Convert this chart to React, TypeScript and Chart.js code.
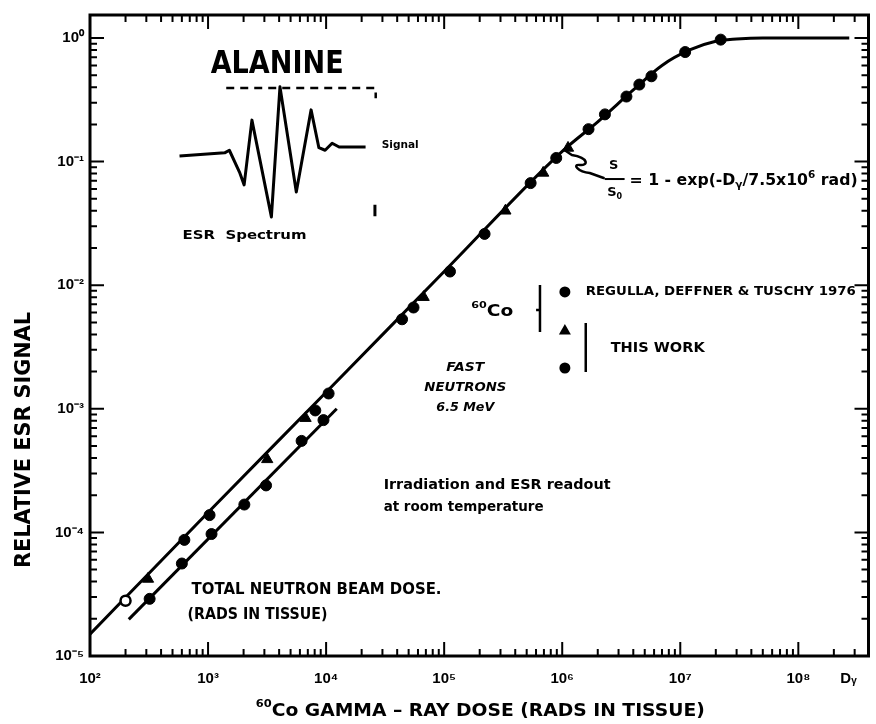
import React, { useEffect, useRef } from 'react';
import { Chart, registerables } from 'chart.js';

Chart.register(...registerables);

// ---------------- data ----------------
// fitted curve S/S0 = 1 - exp(-D/7.5e6 rad)
const FIT_DOSE = [1e2, 1e3, 1e4, 1e5, 1e6, 2e6, 4e6, 7e6, 1.2e7, 2e7, 3e7, 5e7, 2.7e8];
const FIT_SIGNAL = [1.5e-5, 1.45e-4, 1.36e-3, 1.29e-2, 0.121, 0.21, 0.38, 0.6, 0.8, 0.94, 0.98, 1.0, 1.0];

// 60Co — Regulla, Deffner & Tuschy 1976 (filled circles)
const REGULLA_DOSE = [630, 1030, 8100, 1.05e4, 4.4e4, 5.5e4, 1.12e5, 2.2e5, 5.4e5, 8.9e5, 1.67e6, 2.3e6, 3.5e6, 4.5e6, 5.7e6, 1.1e7, 2.2e7];
const REGULLA_SIGNAL = [8.7e-5, 1.38e-4, 9.7e-4, 1.33e-3, 5.3e-3, 6.6e-3, 1.29e-2, 2.6e-2, 6.7e-2, 0.107, 0.183, 0.241, 0.336, 0.42, 0.49, 0.77, 0.97];

// 60Co — this work (triangles)
const CO_THIS_WORK_DOSE = [310, 3170, 6700, 6.7e4, 3.3e5, 6.9e5, 1.12e6];
const CO_THIS_WORK_SIGNAL = [4.2e-5, 3.9e-4, 8.4e-4, 8.0e-3, 4.0e-2, 8.1e-2, 0.129];

// open circle on the 60Co line
const OPEN_DOSE = [200];
const OPEN_SIGNAL = [2.8e-5];

// fast neutrons 6.5 MeV — this work (circles, total neutron beam dose)
const NEUTRON_DOSE = [320, 600, 1070, 2030, 3100, 6200, 9500];
const NEUTRON_SIGNAL = [2.9e-5, 5.6e-5, 9.7e-5, 1.68e-4, 2.4e-4, 5.5e-4, 8.1e-4];
const NEUTRON_LINE_DOSE = [213, 1.23e4];
const NEUTRON_LINE_SIGNAL = [1.98e-5, 1.0e-3];

// axes
const X_MIN = 1e2;
const X_MAX = 3.93e8;
const Y_MIN = 1e-5;
const Y_MAX = 1.535;
const X_TICKS = [1e2, 1e3, 1e4, 1e5, 1e6, 1e7, 1e8];
const D_GAMMA_TICK = 2.66e8;
const Y_TICKS = [1e-5, 1e-4, 1e-3, 1e-2, 1e-1, 1];

// inset ESR spectrum sketch (inset units, 0–100 across the plot)
const SPECTRUM_FIELD = [11.5, 17.3, 17.9, 19.2, 19.8, 20.8, 23.3, 24.4, 26.5, 28.4, 29.4, 30.2, 31.1, 32.0, 35.4];
const SPECTRUM_AMPL = [78.0, 78.5, 78.9, 75.5, 73.5, 83.6, 68.5, 88.8, 72.4, 85.2, 79.3, 78.9, 80.0, 79.4, 79.4];
const BRACKET_FIELD = [17.5, 36.7, 36.7];
const BRACKET_AMPL = [88.6, 88.6, 87.0];
const BRACKET_LOW_FIELD = [36.6, 36.6];
const BRACKET_LOW_AMPL = [70.4, 68.6];

// ---------------- helpers ----------------
const FONT = '"DejaVu Sans", "Liberation Sans", sans-serif';
const TICK_FONT = '"Liberation Sans", Arial, sans-serif';
const SUP: Record<string, string> = {
  '0': '⁰', '1': '¹', '2': '²', '3': '³', '4': '⁴', '5': '⁵', '6': '⁶', '7': '⁷', '8': '⁸', '9': '⁹', '-': '⁻',
};
const sup = (s: string) => s.split('').map((c) => SUP[c] ?? c).join('');
const zip = (xs: number[], ys: number[]) => xs.map((x, i) => ({ x, y: ys[i] }));

type Part = { t: string; size: number; dy?: number; italic?: boolean };

function drawParts(
  ctx: CanvasRenderingContext2D,
  parts: Part[],
  pos: number[],
  align: 'left' | 'center',
  targetW?: number,
  rotate = 0,
) {
  const fontOf = (p: Part) => `${p.italic ? 'italic ' : ''}bold ${p.size}px ${FONT}`;
  let total = 0;
  const widths = parts.map((p) => {
    ctx.font = fontOf(p);
    const w = ctx.measureText(p.t).width;
    total += w;
    return w;
  });
  const s = targetW ? targetW / total : 1;
  ctx.save();
  ctx.translate(pos[0], pos[1]);
  if (rotate) ctx.rotate(rotate);
  ctx.scale(s, 1);
  ctx.textBaseline = 'middle';
  ctx.textAlign = 'left';
  let cx = align === 'center' ? -total / 2 : 0;
  parts.forEach((p, i) => {
    ctx.font = fontOf(p);
    ctx.fillText(p.t, cx, p.dy || 0);
    cx += widths[i];
  });
  ctx.restore();
}

const decorPlugin = {
  id: 'decor',
  afterDatasetsDraw(chart: any) {
    const { ctx, chartArea: ca, scales } = chart;
    const x = scales.x;
    const y = scales.y;
    const ax = scales.ax;
    const ay = scales.ay;
    const P = (xp: number, yp: number) => [ax.getPixelForValue(xp), ay.getPixelForValue(yp)];

    ctx.save();
    ctx.fillStyle = '#000';
    ctx.strokeStyle = '#000';

    // frame
    ctx.lineWidth = 3;
    ctx.strokeRect(ca.left, ca.top, ca.right - ca.left, ca.bottom - ca.top);

    // inward ticks on all four sides
    ctx.lineWidth = 2;
    ctx.beginPath();
    for (let e = 2; e <= 8; e++) {
      for (let m = 1; m <= 9; m++) {
        const v = m * Math.pow(10, e);
        if (v > x.max) break;
        const px = x.getPixelForValue(v);
        const L = m === 1 ? 14 : 7;
        ctx.moveTo(px, ca.bottom);
        ctx.lineTo(px, ca.bottom - L);
        ctx.moveTo(px, ca.top);
        ctx.lineTo(px, ca.top + L);
      }
    }
    for (let e = -5; e <= 0; e++) {
      for (let m = 1; m <= 9; m++) {
        const v = m * Math.pow(10, e);
        if (v > y.max) break;
        const py = y.getPixelForValue(v);
        const L = m === 1 ? 14 : 7;
        ctx.moveTo(ca.left, py);
        ctx.lineTo(ca.left + L, py);
        ctx.moveTo(ca.right, py);
        ctx.lineTo(ca.right - L, py);
      }
    }
    ctx.stroke();

    // title & inset labels
    drawParts(ctx, [{ t: 'ALANINE', size: 32 }], P(24.04, 92.2), 'center', 133);
    drawParts(ctx, [{ t: 'Signal', size: 11 }], P(37.47, 79.72), 'left', 37);
    drawParts(ctx, [{ t: 'ESR  Spectrum', size: 13 }], P(11.89, 65.52), 'left', 124);

    // formula with S-shaped callout hook
    ctx.lineWidth = 2.5;
    ctx.lineJoin = 'round';
    ctx.lineCap = 'round';
    ctx.beginPath();
    const k = [
      P(61.13, 78.78), P(61.89, 78.16),
      P(64.19, 77.69), P(63.94, 76.44), P(62.92, 76.6),
      P(61.89, 76.76), P(62.66, 75.51), P(64.19, 75.35),
      P(65.98, 74.57),
    ];
    ctx.moveTo(k[0][0], k[0][1]);
    ctx.lineTo(k[1][0], k[1][1]);
    ctx.bezierCurveTo(k[2][0], k[2][1], k[3][0], k[3][1], k[4][0], k[4][1]);
    ctx.bezierCurveTo(k[5][0], k[5][1], k[6][0], k[6][1], k[7][0], k[7][1]);
    ctx.lineTo(k[8][0], k[8][1]);
    ctx.stroke();
    ctx.lineCap = 'butt';
    ctx.lineWidth = 2;
    ctx.beginPath();
    const b0 = P(66.11, 74.41), b1 = P(68.67, 74.41);
    ctx.moveTo(b0[0], b0[1]);
    ctx.lineTo(b1[0], b1[1]);
    ctx.stroke();
    drawParts(ctx, [{ t: 'S', size: 13 }], P(67.26, 76.44), 'center');
    drawParts(ctx, [{ t: 'S', size: 13 }, { t: '0', size: 8, dy: 4 }], P(67.39, 72.23), 'center');
    drawParts(
      ctx,
      [
        { t: '= 1 - exp(-D', size: 15 },
        { t: 'γ', size: 10, dy: 4 },
        { t: '/7.5x10', size: 15 },
        { t: '6', size: 10, dy: -6 },
        { t: ' rad)', size: 15 },
      ],
      P(69.31, 74.1),
      'left',
      228,
    );

    // legend block
    drawParts(ctx, [{ t: '60', size: 9, dy: -6 }, { t: 'Co', size: 15 }], P(48.98, 53.67), 'left', 42);
    ctx.lineWidth = 2.5;
    ctx.beginPath();
    const l0 = P(57.8, 57.88), l1 = P(57.8, 50.55), n0 = P(57.3, 53.98), n1 = P(57.8, 53.98);
    ctx.moveTo(l0[0], l0[1]);
    ctx.lineTo(l1[0], l1[1]);
    ctx.moveTo(n0[0], n0[1]);
    ctx.lineTo(n1[0], n1[1]);
    const r0 = P(63.68, 51.95), r1 = P(63.68, 44.31);
    ctx.moveTo(r0[0], r0[1]);
    ctx.lineTo(r1[0], r1[1]);
    ctx.stroke();
    const c1 = P(61.0, 56.79);
    ctx.beginPath();
    ctx.arc(c1[0], c1[1], 5.5, 0, Math.PI * 2);
    ctx.fill();
    const t1 = P(61.0, 50.86);
    ctx.beginPath();
    ctx.moveTo(t1[0], t1[1] - 6);
    ctx.lineTo(t1[0] - 6, t1[1] + 4.5);
    ctx.lineTo(t1[0] + 6, t1[1] + 4.5);
    ctx.closePath();
    ctx.fill();
    const c2 = P(61.0, 44.93);
    ctx.beginPath();
    ctx.arc(c2[0], c2[1], 5.5, 0, Math.PI * 2);
    ctx.fill();
    drawParts(ctx, [{ t: 'REGULLA, DEFFNER & TUSCHY 1976', size: 13 }], P(63.68, 56.79), 'left', 270);
    drawParts(ctx, [{ t: 'THIS WORK', size: 14 }], P(66.88, 48.05), 'left', 94);

    drawParts(ctx, [{ t: 'FAST', size: 13, italic: true }], P(48.21, 44.93), 'center', 38);
    drawParts(ctx, [{ t: 'NEUTRONS', size: 13, italic: true }], P(48.21, 41.81), 'center', 82);
    drawParts(ctx, [{ t: '6.5 MeV', size: 13, italic: true }], P(48.21, 38.69), 'center', 58);

    drawParts(ctx, [{ t: 'Irradiation and ESR readout', size: 14 }], P(37.72, 26.68), 'left', 227);
    drawParts(ctx, [{ t: 'at room temperature', size: 14 }], P(37.72, 23.24), 'left', 160);

    drawParts(ctx, [{ t: 'TOTAL NEUTRON BEAM DOSE.', size: 15 }], P(13.04, 10.3), 'left', 250);
    drawParts(ctx, [{ t: '(RADS IN TISSUE)', size: 15 }], P(12.53, 6.4), 'left', 140);

    // axis titles
    drawParts(ctx, [{ t: 'RELATIVE ESR SIGNAL', size: 21 }], P(-8.44, 33.7), 'center', 256, -Math.PI / 2);
    drawParts(
      ctx,
      [
        { t: '60', size: 11, dy: -7 },
        { t: 'Co GAMMA – RAY DOSE (RADS IN TISSUE)', size: 18 },
      ],
      P(50.13, -8.58),
      'center',
      449,
    );
    ctx.restore();
  },
};

export default function App() {
  const ref = useRef<HTMLCanvasElement | null>(null);

  useEffect(() => {
    if (!ref.current) return;
    const markerBase = { showLine: false, borderColor: '#000', backgroundColor: '#000', xAxisID: 'x', yAxisID: 'y', order: 0 };
    const lineBase = { showLine: true, pointRadius: 0, borderColor: '#000', backgroundColor: '#000', order: 1 };
    const chart = new Chart(ref.current, {
      type: 'scatter',
      data: {
        datasets: [
          { ...markerBase, label: 'Regulla, Deffner & Tuschy 1976', data: zip(REGULLA_DOSE, REGULLA_SIGNAL), pointStyle: 'circle', pointRadius: 5.5 },
          { ...markerBase, label: '60Co this work', data: zip(CO_THIS_WORK_DOSE, CO_THIS_WORK_SIGNAL), pointStyle: 'triangle', pointRadius: 6.5 },
          { ...markerBase, label: 'open', data: zip(OPEN_DOSE, OPEN_SIGNAL), pointStyle: 'circle', pointRadius: 5, backgroundColor: '#fff', borderWidth: 2.5 },
          { ...markerBase, label: 'fast neutrons this work', data: zip(NEUTRON_DOSE, NEUTRON_SIGNAL), pointStyle: 'circle', pointRadius: 5.5 },
          { ...lineBase, label: 'fit', data: zip(FIT_DOSE, FIT_SIGNAL), borderWidth: 3, cubicInterpolationMode: 'monotone', xAxisID: 'x', yAxisID: 'y' },
          { ...lineBase, label: 'neutron line', data: zip(NEUTRON_LINE_DOSE, NEUTRON_LINE_SIGNAL), borderWidth: 3, xAxisID: 'x', yAxisID: 'y' },
          { ...lineBase, label: 'spectrum', data: zip(SPECTRUM_FIELD, SPECTRUM_AMPL), borderWidth: 3, tension: 0, borderJoinStyle: 'round', xAxisID: 'ax', yAxisID: 'ay' },
          { ...lineBase, label: 'bracket', data: zip(BRACKET_FIELD, BRACKET_AMPL), borderWidth: 2.5, borderDash: [8, 6], xAxisID: 'ax', yAxisID: 'ay' },
          { ...lineBase, label: 'bracket low', data: zip(BRACKET_LOW_FIELD, BRACKET_LOW_AMPL), borderWidth: 3, xAxisID: 'ax', yAxisID: 'ay' },
        ] as any,
      },
      options: {
        responsive: false,
        animation: false,
        devicePixelRatio: 1,
        layout: { padding: { left: 0, right: 4, top: 15, bottom: 0 } },
        plugins: { legend: { display: false }, tooltip: { enabled: false } },
        scales: {
          x: {
            type: 'logarithmic',
            position: 'bottom',
            min: X_MIN,
            max: X_MAX,
            grid: { display: false, drawTicks: false },
            border: { display: false },
            afterBuildTicks: (s: any) => {
              s.ticks = [...X_TICKS, D_GAMMA_TICK].map((v) => ({ value: v }));
            },
            afterFit: (s: any) => {
              s.height = 68;
            },
            ticks: {
              autoSkip: false,
              maxRotation: 0,
              padding: 14,
              color: '#000',
              font: { family: TICK_FONT, size: 15, weight: 'bold' },
              callback: (v: any) => (v > 1.5e8 ? 'Dᵧ' : '10' + sup(String(Math.round(Math.log10(v))))),
            },
          },
          y: {
            type: 'logarithmic',
            position: 'left',
            min: Y_MIN,
            max: Y_MAX,
            grid: { display: false, drawTicks: false },
            border: { display: false },
            afterBuildTicks: (s: any) => {
              s.ticks = Y_TICKS.map((v) => ({ value: v }));
            },
            afterFit: (s: any) => {
              s.width = 90;
            },
            ticks: {
              autoSkip: false,
              padding: 6,
              color: '#000',
              font: { family: TICK_FONT, size: 15, weight: 'bold' },
              callback: (v: any) => '10' + sup(String(Math.round(Math.log10(v)))),
            },
          },
          ax: { type: 'linear', min: 0, max: 100, display: false, position: 'bottom' },
          ay: { type: 'linear', min: 0, max: 100, display: false, position: 'left' },
        },
      } as any,
      plugins: [decorPlugin],
    });
    return () => chart.destroy();
  }, []);

  return (
    <div style={{ position: 'fixed', left: 0, top: 0, width: 876, height: 724, background: '#fff' }}>
      <canvas ref={ref} width={876} height={724} style={{ width: 876, height: 724, display: 'block' }} />
    </div>
  );
}
